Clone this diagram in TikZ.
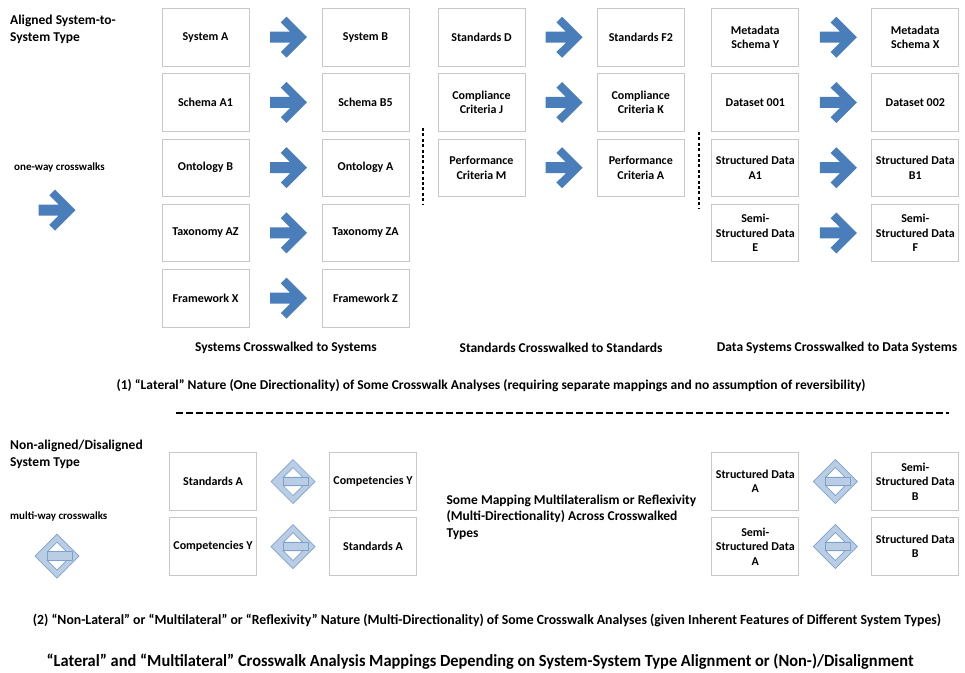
\documentclass[tikz,border=0pt]{standalone}
\usepackage{fontspec}
\setmainfont{Carlito}
\usetikzlibrary{calc}
\definecolor{arrowblue}{RGB}{74,126,187}
\definecolor{diafill}{RGB}{185,205,229}
\definecolor{diadraw}{RGB}{125,160,205}
\definecolor{boxgray}{RGB}{200,200,200}

\tikzset{
  cwbox/.style={draw=boxgray, line width=0.8pt, minimum width=87pt, minimum height=57.5pt,
    align=center, inner sep=1pt, font=\fontsize{12}{14.5}\selectfont\bfseries},
  grouplabel/.style={font=\fontsize{13.5}{16.5}\selectfont\bfseries},
  smalllabel/.style={font=\fontsize{11}{13}\selectfont\bfseries},
  oneway/.pic={
    \fill[arrowblue] (21.5,0) -- (1,-20.5) -- (-4.7,-14.8) -- (4.7,-5.5) -- (-15.5,-5.5)
      -- (-15.5,5.5) -- (4.7,5.5) -- (-4.7,14.8) -- (1,20.5) -- cycle;
  },
  multiway/.pic={
    \draw[diadraw, fill=diafill, line width=0.7pt] (-22,0) -- (0,-22) -- (22,0) -- (0,22) -- cycle;
    \draw[diadraw, fill=white, line width=0.7pt] (0,-14) -- (9.8,-4.2) -- (-9.8,-4.2) -- cycle;
    \draw[diadraw, fill=white, line width=0.7pt] (0,14) -- (9.8,4.2) -- (-9.8,4.2) -- cycle;
    \draw[diadraw, fill=diafill, line width=0.7pt] (-9.8,-4.2) rectangle (15,4.2);
  }
}

\begin{document}
\begin{tikzpicture}[x=1pt, y=-1pt]
\useasboundingbox (0,0) rectangle (965,672);

\node[grouplabel, align=left, anchor=north west, inner sep=0] (aligned) at (10,15) {Aligned System-to-\\System Type};
\node[smalllabel, anchor=west, inner sep=0] (onelbl) at (14,168) {one-way crosswalks};
\pic at (54,210) {oneway};

% systems
\node[cwbox] (sysA) at (205.5,37.2) {System A};
\node[cwbox] (sysB) at (365.5,37.2) {System B};
\node[cwbox] (schA) at (205.5,102.45) {Schema A1};
\node[cwbox] (schB) at (365.5,102.45) {Schema B5};
\node[cwbox] (ontB) at (205.5,167.7) {Ontology B};
\node[cwbox] (ontA) at (365.5,167.7) {Ontology A};
\node[cwbox] (taxAZ) at (205.5,232.95) {Taxonomy AZ};
\node[cwbox] (taxZA) at (365.5,232.95) {Taxonomy ZA};
\node[cwbox] (frmX) at (205.5,298.2) {Framework X};
\node[cwbox] (frmZ) at (365.5,298.2) {Framework Z};
\pic at ($(sysA.east)!.5!(sysB.west)$) {oneway};
\pic at ($(schA.east)!.5!(schB.west)$) {oneway};
\pic at ($(ontB.east)!.5!(ontA.west)$) {oneway};
\pic at ($(taxAZ.east)!.5!(taxZA.west)$) {oneway};
\pic at ($(frmX.east)!.5!(frmZ.west)$) {oneway};

% standards
\node[cwbox] (stdD) at (481.5,37.2) {Standards D};
\node[cwbox] (stdF) at (640.8,37.2) {Standards F2};
\node[cwbox] (cmpJ) at (481.5,102.45) {Compliance\\Criteria J};
\node[cwbox] (cmpK) at (640.8,102.45) {Compliance\\Criteria K};
\node[cwbox] (perM) at (481.5,167.7) {Performance\\Criteria M};
\node[cwbox] (perA) at (640.8,167.7) {Performance\\Criteria A};
\pic at ($(stdD.east)!.5!(stdF.west)$) {oneway};
\pic at ($(cmpJ.east)!.5!(cmpK.west)$) {oneway};
\pic at ($(perM.east)!.5!(perA.west)$) {oneway};

% data systems
\node[cwbox] (metY) at (755.3,37.2) {Metadata\\Schema Y};
\node[cwbox] (metX) at (915.3,37.2) {Metadata\\Schema X};
\node[cwbox] (dsA) at (755.3,102.45) {Dataset 001};
\node[cwbox] (dsB) at (915.3,102.45) {Dataset 002};
\node[cwbox] (strA1) at (755.3,167.7) {Structured Data\\A1};
\node[cwbox] (strB1) at (915.3,167.7) {Structured Data\\B1};
\node[cwbox] (semE) at (755.3,232.95) {Semi-\\Structured Data\\E};
\node[cwbox] (semF) at (915.3,232.95) {Semi-\\Structured Data\\F};
\pic at ($(metY.east)!.5!(metX.west)$) {oneway};
\pic at ($(dsA.east)!.5!(dsB.west)$) {oneway};
\pic at ($(strA1.east)!.5!(strB1.west)$) {oneway};
\pic at ($(semE.east)!.5!(semF.west)$) {oneway};

\draw[line width=2.2pt, dash pattern=on 3pt off 2.4pt] (423,128) -- (423,205);
\draw[line width=2.2pt, dash pattern=on 3pt off 2.4pt] (699,132) -- (699,208);

\node[grouplabel] (lblsys) at (286,348) {Systems Crosswalked to Systems};
\node[grouplabel] (lblstd) at (561,348) {Standards Crosswalked to Standards};
\node[grouplabel] (lbldat) at (837,348) {Data Systems Crosswalked to Data Systems};
\node[grouplabel] (capone) at (491,386) {(1) “Lateral” Nature (One Directionality) of Some Crosswalk Analyses (requiring separate mappings and no assumption of reversibility)};

\draw[line width=2pt, dash pattern=on 6.5pt off 3.5pt] (176,413) -- (949,413);

\node[grouplabel, align=left, anchor=north west, inner sep=0] (nonaligned) at (10,440) {Non-aligned/Disaligned\\System Type};
\node[smalllabel, anchor=west, inner sep=0] (multilbl) at (10,516) {multi-way crosswalks};
\pic at (57,556) {multiway};

\node[cwbox] (stdA) at (213,481.5) {Standards A};
\node[cwbox] (cmpY) at (373,481.5) {Competencies Y};
\node[cwbox] (cmpY2) at (213,546.5) {Competencies Y};
\node[cwbox] (stdA2) at (373,546.5) {Standards A};
\pic at ($(stdA.east)!.5!(cmpY.west)$) {multiway};
\pic at ($(cmpY2.east)!.5!(stdA2.west)$) {multiway};

\node[grouplabel, align=left, anchor=west] (mixtext) at (443,517) {Some Mapping Multilateralism or Reflexivity\\(Multi-Directionality) Across Crosswalked\\Types};

\node[cwbox] (strA) at (755.3,481.5) {Structured Data\\A};
\node[cwbox] (semB) at (915.3,481.5) {Semi-\\Structured Data\\B};
\node[cwbox] (semA) at (755.3,546.5) {Semi-\\Structured Data\\A};
\node[cwbox] (strB) at (915.3,546.5) {Structured Data\\B};
\pic at ($(strA.east)!.5!(semB.west)$) {multiway};
\pic at ($(semA.east)!.5!(strB.west)$) {multiway};

\node[font=\fontsize{14}{17}\selectfont\bfseries] (captwo) at (487,620) {\scalebox{0.98}[1]{(2) “Non-Lateral” or “Multilateral” or “Reflexivity” Nature (Multi-Directionality) of Some Crosswalk Analyses (given Inherent Features of Different System Types)}};
\node[font=\fontsize{17}{20}\selectfont\bfseries] (title) at (480,662) {\scalebox{0.964}[1]{“Lateral” and “Multilateral” Crosswalk Analysis Mappings Depending on System-System Type Alignment or (Non-)/Disalignment}};
\end{tikzpicture}
\end{document}
